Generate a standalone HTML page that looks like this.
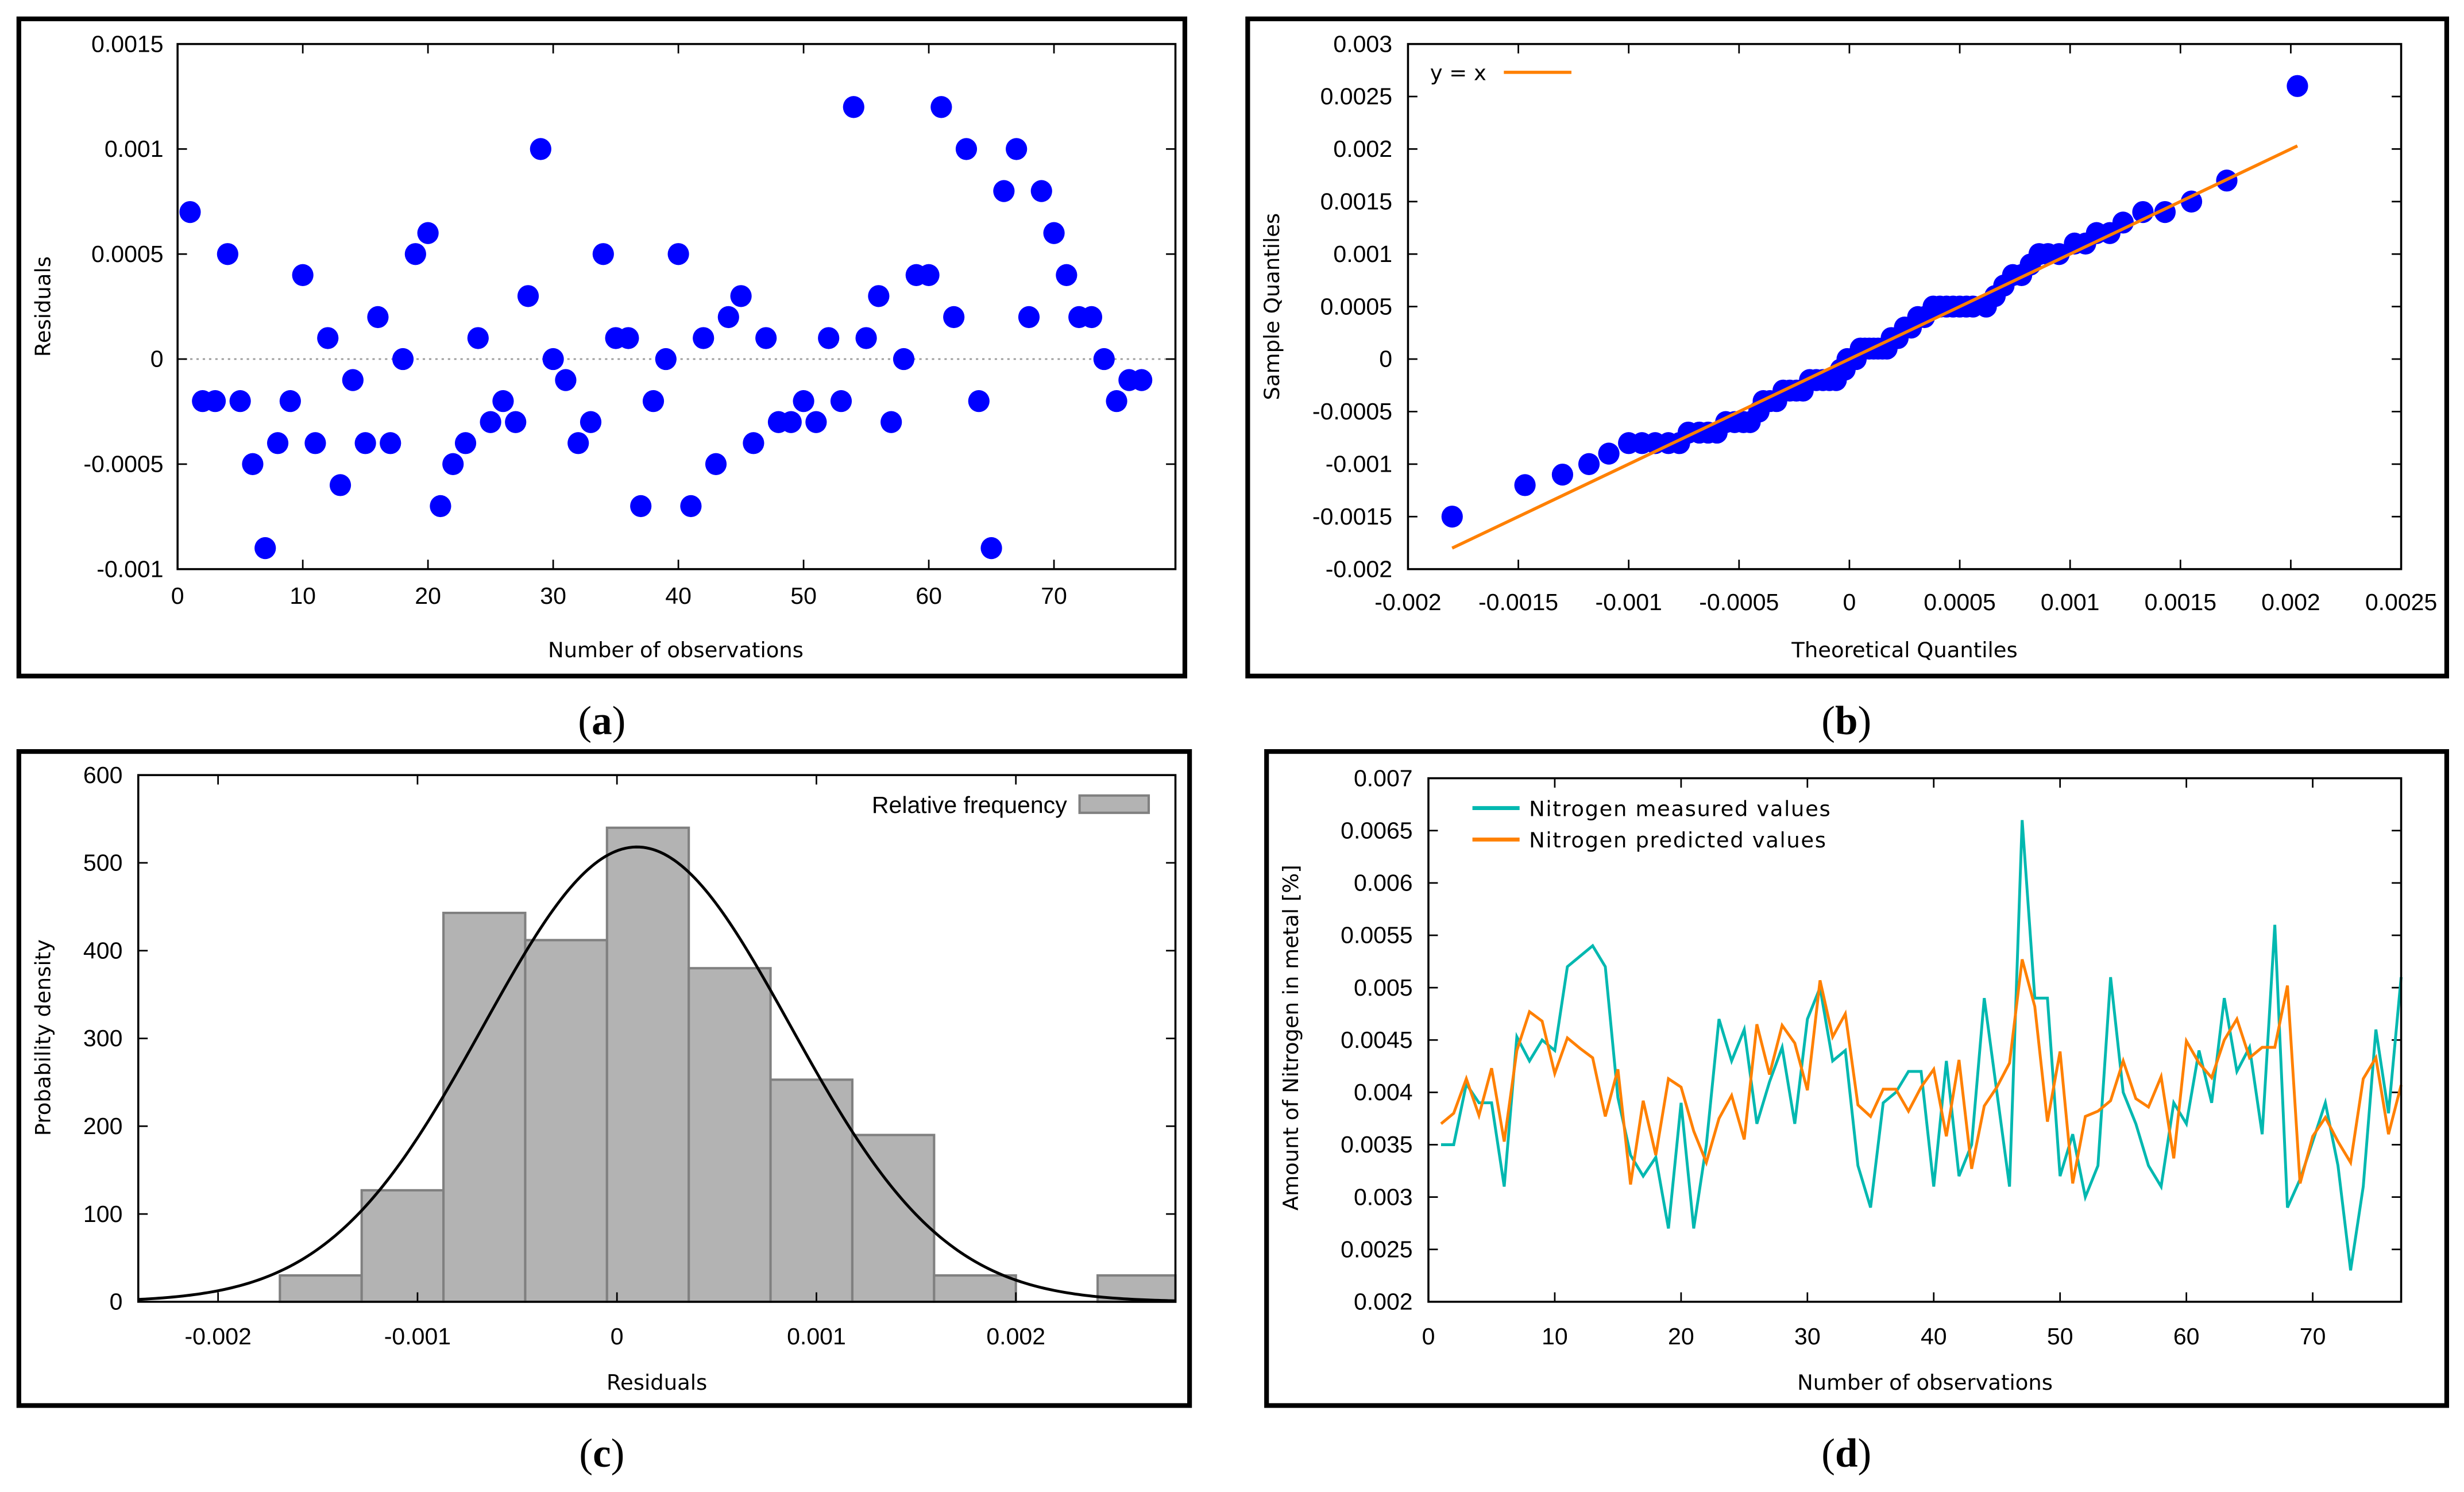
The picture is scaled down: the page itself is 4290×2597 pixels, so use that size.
<!DOCTYPE html>
<html><head><meta charset="utf-8"><title>Residual analysis</title>
<style>
html,body{margin:0;padding:0;background:#fff;}
svg{display:block;}
.tk{font-family:"Liberation Sans Narrow","Liberation Sans",sans-serif;font-size:15px;fill:#000;}
.tt{font-family:"DejaVu Sans","Liberation Sans",sans-serif;font-size:13.5px;fill:#000;}
.cap{font-family:"Liberation Serif",serif;font-size:26px;fill:#000;}
</style></head>
<body>
<svg id="root" xmlns="http://www.w3.org/2000/svg" width="4290" height="2597" viewBox="0 0 1568 949" preserveAspectRatio="none">
<rect x="0" y="0" width="1568" height="949" fill="#fff"/>
<rect x="12" y="12" width="742" height="418" fill="none" stroke="#000" stroke-width="3"/>
<rect x="794" y="12" width="763" height="418" fill="none" stroke="#000" stroke-width="3"/>
<rect x="12" y="478" width="745" height="416" fill="none" stroke="#000" stroke-width="3"/>
<rect x="806" y="478" width="751" height="416" fill="none" stroke="#000" stroke-width="3"/>
<text class="cap" x="383" y="467" text-anchor="middle">(<tspan font-weight="bold">a</tspan>)</text>
<text class="cap" x="1175" y="467" text-anchor="middle">(<tspan font-weight="bold">b</tspan>)</text>
<text class="cap" x="383" y="933" text-anchor="middle">(<tspan font-weight="bold">c</tspan>)</text>
<text class="cap" x="1175" y="933" text-anchor="middle">(<tspan font-weight="bold">d</tspan>)</text>
<g id="ga"></g><g id="gb"></g><g id="gc"></g><g id="gd"></g>
</svg>
<script>
// ---- Panel (a) data ----
const aResiduals = [7,-2,-2,5,-2,-5,-9,-4,-2,4,-4,1,-6,-1,-4,2,-4,0,5,6,-7,-5,-4,1,-3,-2,-3,3,10,0,-1,-4,-3,5,1,1,-7,-2,0,5,-7,1,-5,2,3,-4,1,-3,-3,-2,-3,1,-2,12,1,3,-3,0,4,4,12,2,10,-2,-9,8,10,2,8,6,4,2,2,0,-2,-1,-1];
const aXTicks = [0,10,20,30,40,50,60,70];
const aYTicks = ["0.0015","0.001","0.0005","0","-0.0005","-0.001"];
// ---- Panel (b) data ----
const bTheoretical = [-18,-14.7,-13,-11.8,-10.9,-10,-9.4,-8.8,-8.2,-7.7,-7.3,-6.8,-6.4,-6,-5.6,-5.2,-4.8,-4.5,-4.1,-3.9,-3.6,-3.3,-3,-2.7,-2.4,-2.1,-1.8,-1.5,-1.2,-0.9,-0.6,-0.4,-0.2,-0.1,0.1,0.3,0.5,0.7,0.9,1.1,1.3,1.5,1.7,1.9,2.2,2.5,2.8,3.1,3.4,3.8,4.1,4.4,4.7,5,5.3,5.6,6.2,6.6,7,7.4,7.8,8.2,8.6,9,9.5,10.2,10.7,11.2,11.8,12.4,13.3,14.3,15.5,17.1,20.3];
const bSample = [-15,-12,-11,-10,-9,-8,-8,-8,-8,-8,-7,-7,-7,-7,-6,-6,-6,-6,-5,-4,-4,-4,-3,-3,-3,-3,-2,-2,-2,-2,-2,-1,-1,0,0,0,1,1,1,1,1,1,1,2,2,3,3,4,4,5,5,5,5,5,5,5,5,6,7,8,8,9,10,10,10,11,11,12,12,13,14,14,15,17,26];
const bXTicks = ["-0.002","-0.0015","-0.001","-0.0005","0","0.0005","0.001","0.0015","0.002","0.0025"];
const bYTicks = ["0.003","0.0025","0.002","0.0015","0.001","0.0005","0","-0.0005","-0.001","-0.0015","-0.002"];
// ---- Panel (c) data ----
const cBinStarts = [-0.00169,-0.00128,-0.00087,-0.00046,-0.00005,0.00036,0.00077,0.00118,0.00159,0.0020,0.00241];
const cDensity = [30,127,443,412,540,380,253,190,30,0,30];
const cMean = 0.0001;
const cSigma = 0.00077;
const cXTicks = ["-0.002","-0.001","0","0.001","0.002"];
const cYTicks = [0,100,200,300,400,500,600];
// ---- Panel (d) data ----
const dMeasured = [3.5,3.5,4.08,3.9,3.9,3.1,4.53,4.3,4.5,4.4,5.2,5.3,5.4,5.2,3.95,3.4,3.2,3.38,2.7,3.9,2.7,3.5,4.7,4.3,4.6,3.7,4.1,4.43,3.7,4.7,5.0,4.3,4.4,3.3,2.9,3.9,4.0,4.2,4.2,3.1,4.3,3.2,3.5,4.9,4.0,3.1,6.6,4.9,4.9,3.2,3.6,3.0,3.3,5.1,4.0,3.7,3.3,3.1,3.9,3.7,4.4,3.9,4.9,4.2,4.43,3.6,5.6,2.9,3.17,3.53,3.9,3.3,2.3,3.1,4.6,3.8,5.1];
const dPredicted = [3.7,3.8,4.13,3.78,4.23,3.53,4.4,4.77,4.68,4.18,4.52,4.42,4.33,3.77,4.22,3.12,3.92,3.4,4.13,4.05,3.63,3.33,3.75,3.97,3.55,4.65,4.17,4.64,4.47,4.02,5.07,4.53,4.75,3.88,3.77,4.03,4.03,3.82,4.05,4.22,3.58,4.31,3.27,3.87,4.05,4.28,5.27,4.82,3.72,4.39,3.13,3.77,3.82,3.92,4.3,3.94,3.86,4.15,3.37,4.49,4.28,4.14,4.5,4.7,4.33,4.43,4.43,5.02,3.13,3.58,3.76,3.53,3.33,4.13,4.33,3.6,4.07];
const dXTicks = [0,10,20,30,40,50,60,70];
const dYTicks = ["0.007","0.0065","0.006","0.0055","0.005","0.0045","0.004","0.0035","0.003","0.0025","0.002"];

const NS="http://www.w3.org/2000/svg";
function mk(parent,tag,attrs,text){const e=document.createElementNS(NS,tag);for(const k in attrs)e.setAttribute(k,attrs[k]);if(text!==undefined)e.textContent=text;parent.appendChild(e);return e;}
function lin(d0,d1,r0,r1){return v=>r0+(v-d0)*(r1-r0)/(d1-d0);}

function axesBox(g,L,T,R,B){
  const b=mk(g,'rect',{x:L,y:T,width:R-L,height:B-T,fill:'none',stroke:'#000','stroke-width':1.3});
  
  
}
function tickX(g,x,T,B,label,ly){
  mk(g,'line',{x1:x,y1:B,x2:x,y2:B-6,stroke:'#000','stroke-width':1});
  mk(g,'line',{x1:x,y1:T,x2:x,y2:T+6,stroke:'#000','stroke-width':1});
  const t=mk(g,'text',{x:x,y:ly,'text-anchor':'middle',class:'tk'},label);
  
  
}
function tickY(g,y,L,R,label,lx){
  mk(g,'line',{x1:L,y1:y,x2:L+6,y2:y,stroke:'#000','stroke-width':1});
  mk(g,'line',{x1:R,y1:y,x2:R-6,y2:y,stroke:'#000','stroke-width':1});
  const t=mk(g,'text',{x:lx,y:y+5,'text-anchor':'end',class:'tk'},label);
  
  
}
function titles(g,xt,xx,xy,yt,yx,yy){
  const a=mk(g,'text',{x:xx,y:xy,'text-anchor':'middle',class:'tt'},xt);
  
  
  const b=mk(g,'text',{x:yx,y:yy,'text-anchor':'middle',class:'tt',transform:`rotate(-90 ${yx} ${yy})`},yt);
  
  
}

// Panel a
(function(){
  const g=document.getElementById('ga');
  const L=113,R=748,T=28,B=362;
  const X=lin(0,79.7,L,R), Y=lin(0.0015,-0.001,T,B);
  mk(g,'line',{x1:L,y1:Y(0),x2:R,y2:Y(0),stroke:'#999','stroke-width':1,'stroke-dasharray':'1.5 2.5'});
  aXTicks.forEach(v=>tickX(g,X(v),T,B,String(v),384));
  aYTicks.forEach(s=>tickY(g,Y(parseFloat(s)),L,R,s,104));
  aResiduals.forEach((v,i)=>{
    const c=mk(g,'ellipse',{cx:X(i+1),cy:Y(v*1e-4),rx:6.8,ry:7,fill:'#0000ff'});
    
    
  });
  axesBox(g,L,T,R,B);
  titles(g,'Number of observations',430,418,'Residuals',32,195);
})();

// Panel b
(function(){
  const g=document.getElementById('gb');
  const L=896,R=1528,T=28,B=362;
  const X=lin(-0.002,0.0025,L,R), Y=lin(0.003,-0.002,T,B);
  bXTicks.forEach(s=>tickX(g,X(parseFloat(s)),T,B,s,388));
  bYTicks.forEach(s=>tickY(g,Y(parseFloat(s)),L,R,s,886));
  bTheoretical.forEach((v,i)=>{
    const c=mk(g,'ellipse',{cx:X(v*1e-4),cy:Y(bSample[i]*1e-4),rx:6.8,ry:7,fill:'#0000ff'});
    
    
  });
  const x0=-0.0018,x1=0.00203;
  const ln=mk(g,'line',{x1:X(x0),y1:Y(x0),x2:X(x1),y2:Y(x1),stroke:'#ff8000','stroke-width':2});
  
  
  const lt=mk(g,'text',{x:910,y:51,class:'tt'},'y = x');
  
  
  mk(g,'line',{x1:957,y1:46,x2:1000,y2:46,stroke:'#ff8000','stroke-width':2});
  axesBox(g,L,T,R,B);
  titles(g,'Theoretical Quantiles',1212,418,'Sample Quantiles',814,195);
})();

// Panel c
(function(){
  const g=document.getElementById('gc');
  const L=88,R=748,T=493,B=828;
  const X=lin(-0.0024,0.0028,L,R), Y=lin(600,0,T,B);
  const bw=0.00041;
  cDensity.forEach((v,i)=>{
    if(v<=0)return;
    const x0=X(cBinStarts[i]),x1=X(Math.min(cBinStarts[i]+bw,0.0028));
    const r=mk(g,'rect',{x:x0,y:Y(v),width:x1-x0,height:Y(0)-Y(v),fill:'#b3b3b3',stroke:'#808080','stroke-width':1.5});
    
    
  });
  let d='';
  for(let i=0;i<=300;i++){const x=-0.0024+i*0.0052/300;const y=Math.exp(-0.5*Math.pow((x-cMean)/cSigma,2))/(cSigma*Math.sqrt(2*Math.PI));d+=(i?'L':'M')+X(x).toFixed(2)+' '+Y(y).toFixed(2);}
  const p=mk(g,'path',{d:d,fill:'none',stroke:'#000','stroke-width':1.8});
  
  
  cXTicks.forEach(s=>tickX(g,X(parseFloat(s)),T,B,s,855));
  cYTicks.forEach(v=>tickY(g,Y(v),L,R,String(v),78));
  const lt=mk(g,'text',{x:679,y:517,'text-anchor':'end',class:'tk'},'Relative frequency');
  
  
  mk(g,'rect',{x:687,y:506,width:44,height:11,fill:'#b3b3b3',stroke:'#808080','stroke-width':1.5});
  axesBox(g,L,T,R,B);
  titles(g,'Residuals',418,884,'Probability density',32,660);
})();

// Panel d
(function(){
  const g=document.getElementById('gd');
  const L=909,R=1528,T=495,B=828;
  const X=lin(0,77,L,R), Y=lin(0.007,0.002,T,B);
  dXTicks.forEach(v=>tickX(g,X(v),T,B,String(v),855));
  dYTicks.forEach(s=>tickY(g,Y(parseFloat(s)),L,R,s,899));
  const path=arr=>arr.map((v,i)=>(i?'L':'M')+X(i+1).toFixed(2)+' '+Y(v*1e-3).toFixed(2)).join('');
  const m=mk(g,'path',{d:path(dMeasured),fill:'none',stroke:'#00b8b0','stroke-width':1.8});
  
  
  const p=mk(g,'path',{d:path(dPredicted),fill:'none',stroke:'#ff8000','stroke-width':1.8});
  
  
  mk(g,'line',{x1:937,y1:514,x2:967,y2:514,stroke:'#00b8b0','stroke-width':2.5});
  mk(g,'line',{x1:937,y1:534,x2:967,y2:534,stroke:'#ff8000','stroke-width':2.5});
  const l1=mk(g,'text',{x:973,y:519,class:'tt','font-size':'15','letter-spacing':'0.6'},'Nitrogen measured values');
  
  
  const l2=mk(g,'text',{x:973,y:539,class:'tt','font-size':'15','letter-spacing':'0.6'},'Nitrogen predicted values');
  
  
  axesBox(g,L,T,R,B);
  titles(g,'Number of observations',1225,884,'Amount of Nitrogen in metal [%]',826,660);
})();
</script>
</body></html>
